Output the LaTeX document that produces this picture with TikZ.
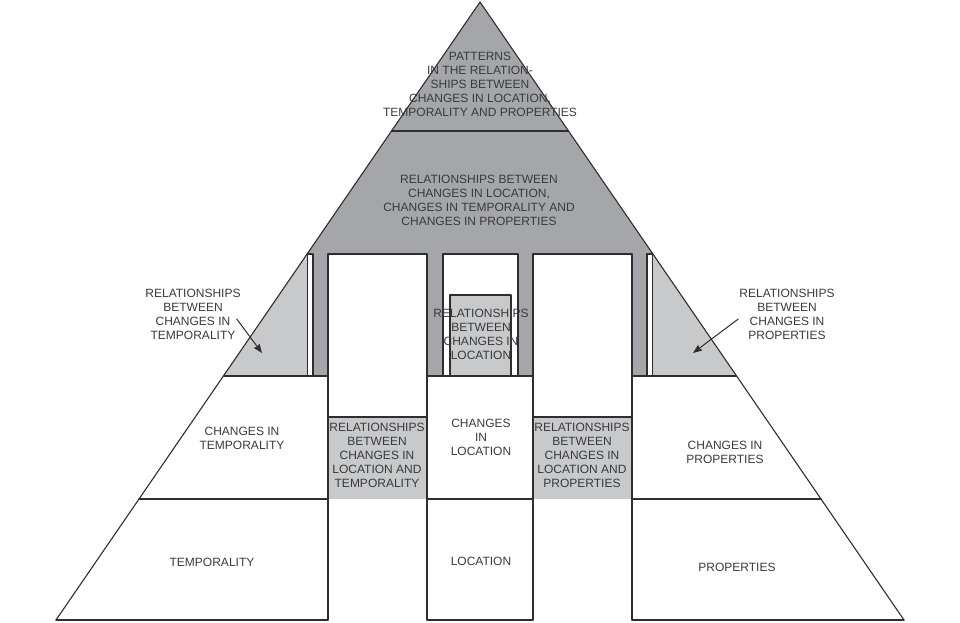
\documentclass[tikz,border=0pt]{standalone}
\usepackage{fontspec}
\setmainfont{Liberation Sans}
\usetikzlibrary{arrows.meta}
\definecolor{darkfill}{HTML}{A4A6A9}
\definecolor{lightfill}{HTML}{C8C9CB}
\definecolor{ink}{HTML}{2E2E2E}
\definecolor{txt}{HTML}{3A3A3A}
\begin{document}
\begin{tikzpicture}[line cap=round,line join=round,>={Stealth[length=9pt,width=7pt,inset=1pt]},x=1pt,y=-1pt,
	lbl/.style={align=center,inner sep=0pt,text=txt,font=\fontsize{12}{14}\selectfont},
	edge/.style={draw=ink,line width=1.1pt}]
	\def\kk{0.6861}
	\def\yT{131}
	\def\yG{254}
	\def\yA{376}
	\def\yB{499}
	\def\yC{620}
	\useasboundingbox (0,0) rectangle (960,622);
	% points on the two sides of the pyramid
	\coordinate (top) at (480,2);
	\coordinate (TL) at ({480-\kk*(\yT-2)},\yT);
	\coordinate (TR) at ({480+\kk*(\yT-2)},\yT);
	\coordinate (GL) at ({480-\kk*(\yG-2)},\yG);
	\coordinate (GR) at ({480+\kk*(\yG-2)},\yG);
	\coordinate (AL) at ({480-\kk*(\yA-2)},\yA);
	\coordinate (AR) at ({480+\kk*(\yA-2)},\yA);
	\coordinate (BL) at ({480-\kk*(\yB-2)},\yB);
	\coordinate (BR) at ({480+\kk*(\yB-2)},\yB);
	\coordinate (CL) at (56,\yC);
	\coordinate (CR) at (904,\yC);
	% apex and the dark block under it
	\fill[darkfill] (top) -- (TL) -- (TR) -- cycle;
	\fill[darkfill] (TL) -- (TR) -- (GR) -- (GL) -- cycle;
	\foreach \a/\b in {313/328, 427/443, 518/533, 632/647}
		\fill[darkfill] (\a,\yG) rectangle (\b,\yA);
	% light side wedges
	\fill[lightfill] (GL) -- (GL |- AL) -- (AL) -- cycle;
	\fill[lightfill] (GR) -- (GR |- AR) -- (AR) -- cycle;
	% boxes in the open columns
	\fill[lightfill] (450,295) rectangle (511,\yA);
	\fill[lightfill] (328,417) rectangle (427,\yB);
	\fill[lightfill] (533,417) rectangle (632,\yB);
	% outlines
	\draw[edge] (CL) -- (top) -- (CR);
	\draw[edge] (TL) -- (TR);
	\draw[edge] (GL) rectangle (313,\yA);
	\draw[edge] (GR) rectangle (647,\yA);
	\draw[edge] (328,\yC) -- (328,\yG) -- (427,\yG) -- (427,\yC);
	\draw[edge] (533,\yC) -- (533,\yG) -- (632,\yG) -- (632,\yC);
	\draw[edge] (443,\yA) -- (443,\yG) -- (518,\yG) -- (518,\yA);
	\draw[edge] (450,\yA) -- (450,295) -- (511,295) -- (511,\yA);
	\draw[edge] (328,417) -- (427,417);
	\draw[edge] (533,417) -- (632,417);
	\draw[edge] (AL) -- (328,\yA) (427,\yA) -- (533,\yA) (632,\yA) -- (AR);
	\draw[edge] (BL) -- (328,\yB) (427,\yB) -- (533,\yB) (632,\yB) -- (BR);
	\draw[edge] (CL) -- (328,\yC) (427,\yC) -- (533,\yC) (632,\yC) -- (CR);
	% texts
	\node[lbl] (pat) at (480,84) {PATTERNS\\IN THE RELATION-\\SHIPS BETWEEN\\CHANGES IN LOCATION,\\TEMPORALITY AND PROPERTIES};
	\node[lbl] (rel3) at (479,200) {RELATIONSHIPS BETWEEN\\CHANGES IN LOCATION,\\CHANGES IN TEMPORALITY AND\\CHANGES IN PROPERTIES};
	\node[lbl] (relL) at (481,334) {RELATIONSHIPS\\BETWEEN\\CHANGES IN\\LOCATION};
	\node[lbl] (lblT) at (193,314) {RELATIONSHIPS\\BETWEEN\\CHANGES IN\\TEMPORALITY};
	\node[lbl] (lblP) at (787,314) {RELATIONSHIPS\\BETWEEN\\CHANGES IN\\PROPERTIES};
	\node[lbl] (chT) at (242,438) {CHANGES IN\\TEMPORALITY};
	\node[lbl] (relLT) at (377,455) {RELATIONSHIPS\\BETWEEN\\CHANGES IN\\LOCATION AND\\TEMPORALITY};
	\node[lbl] (chL) at (481,437) {CHANGES\\IN\\LOCATION};
	\node[lbl] (relLP) at (582,455) {RELATIONSHIPS\\BETWEEN\\CHANGES IN\\LOCATION AND\\PROPERTIES};
	\node[lbl] (chP) at (725,452) {CHANGES IN\\PROPERTIES};
	\node[lbl] (tem) at (212,562) {TEMPORALITY};
	\node[lbl] (loc) at (481,561) {LOCATION};
	\node[lbl] (pro) at (737,567) {PROPERTIES};
	% pointers
	\coordinate (tipT) at (262,353);
	\coordinate (tipP) at (693,353);
	\draw[->,draw=ink,line width=1pt] ([shift={(-4,5)}]lblT.east) -- (tipT);
	\draw[->,draw=ink,line width=1pt] ([shift={(-1,5)}]lblP.west) -- (tipP);
\end{tikzpicture}
\end{document}
